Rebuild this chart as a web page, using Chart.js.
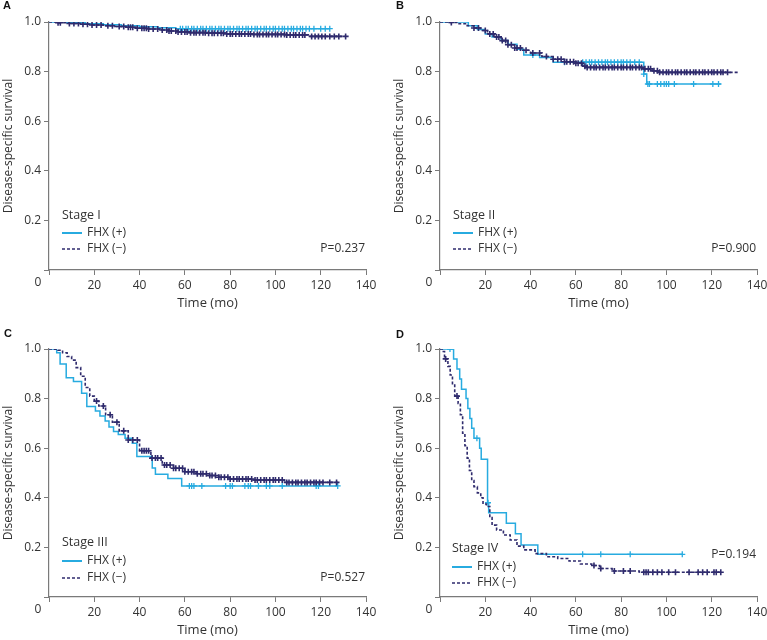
<!DOCTYPE html>
<html>
<head>
<meta charset="utf-8">
<script src="https://cdn.jsdelivr.net/npm/chart.js@4.4.1/dist/chart.umd.min.js"></script>
<style>
  body { margin: 0; background: #fff; width: 767px; height: 640px; position: relative; overflow: hidden; }
  canvas { position: absolute; }
</style>
</head>
<body>
<canvas id="chartA" width="383" height="313" style="left:0;top:0"></canvas>
<canvas id="chartB" width="383" height="313" style="left:391px;top:0"></canvas>
<canvas id="chartC" width="383" height="313" style="left:0;top:327px"></canvas>
<canvas id="chartD" width="383" height="313" style="left:391px;top:327px"></canvas>
<script>
// axis ticks
const xTicks = [0, 20, 40, 60, 80, 100, 120, 140];
const yTicks = [0, 0.2, 0.4, 0.6, 0.8, 1.0];
const seriesLabels = ['FHX (+)', 'FHX (\u2212)'];

// Stage I
const aPosT = [0, 8, 16, 24, 32, 40, 48, 56, 124];
const aPosS = [1, 0.997, 0.993, 0.989, 0.985, 0.981, 0.977, 0.973, 0.973];
const aPosC = [58, 59, 60.5, 61.5, 63, 64, 65.5, 67, 68, 69.5, 71, 72, 73.5, 75, 76, 77.5, 79, 80, 81.5, 83, 84, 85.5, 87, 88, 89.5, 91, 92, 93.5, 95, 96, 97.5, 99, 100, 101.5, 103, 104, 105.5, 107, 108, 109.5, 111, 112, 113.5, 115, 117, 120, 122, 124];
const aNegT = [0, 4, 9, 14, 19, 24, 29, 34, 39, 44, 49, 53, 57, 62, 70, 78, 90, 105, 115, 131];
const aNegS = [1, 0.997, 0.994, 0.991, 0.988, 0.985, 0.982, 0.979, 0.975, 0.972, 0.968, 0.964, 0.96, 0.957, 0.955, 0.952, 0.95, 0.948, 0.942, 0.942];
const aNegC = [4, 5, 9, 11, 13, 15, 17, 19, 21, 23, 26, 28, 31, 33, 35, 36, 37, 39, 41, 42, 43, 44, 46, 48, 50, 52, 53, 54, 56, 57, 58.5, 60, 61, 62.5, 64, 65, 66.5, 68, 69, 70.5, 72, 73, 74.5, 76, 77, 78.5, 80, 81, 82.5, 84, 85, 86.5, 88, 89, 90.5, 92, 93, 94.5, 96, 97, 98.5, 100, 101, 102.5, 104, 105, 106.5, 108, 109, 110.5, 112, 113, 116, 117.5, 119, 120.5, 122, 124, 126, 128, 131];

// Stage II
const bPosT = [0, 12.5, 16.5, 20, 23, 27, 30, 34, 37, 44, 50, 90, 91.3, 124];
const bPosS = [1, 0.985, 0.97, 0.952, 0.94, 0.925, 0.91, 0.89, 0.867, 0.857, 0.838, 0.79, 0.75, 0.75];
const bPosC = [41, 55, 63, 64.5, 66, 67, 68.5, 70, 71.5, 73, 74, 75.5, 77, 78.5, 80, 81, 82.5, 84, 86, 88, 90, 91.8, 92.5, 96, 97.5, 99, 100, 101, 103.5, 112, 120.5, 123];
const bNegT = [0, 4, 8, 12, 15, 18, 21, 24, 27, 30, 33, 36, 40, 45, 50, 55, 60, 63, 65, 90, 94, 97, 132];
const bNegS = [1, 0.998, 0.993, 0.985, 0.976, 0.966, 0.952, 0.94, 0.925, 0.908, 0.895, 0.886, 0.875, 0.861, 0.85, 0.84, 0.834, 0.822, 0.817, 0.811, 0.803, 0.797, 0.797];
const bNegC = [5, 15, 17, 20, 22, 23.5, 25, 26, 27.5, 29, 30, 31.5, 33, 34, 35.5, 38, 41, 44, 47, 50, 52, 53.5, 55, 56, 57.5, 59, 60, 61, 62.5, 64, 65, 66.5, 68, 69, 70.5, 72, 73, 74.5, 76, 77, 78.5, 80, 81, 82.5, 84, 85, 86.5, 88, 89, 90.5, 92, 93, 94.5, 96, 97, 98.5, 100, 101, 102.5, 104, 105, 106.5, 108, 109, 110.5, 112, 113, 114.5, 116, 117, 118.5, 120, 121, 122.5, 124, 125, 127];

// Stage III
const cPosT = [0, 3.4, 4.9, 7.6, 10.8, 14.4, 16.7, 20.5, 22.5, 24.8, 26.5, 28.5, 30.6, 33.6, 36.8, 38.8, 45.6, 47, 52.5, 58.6, 127.5];
const cPosS = [1, 0.985, 0.94, 0.884, 0.869, 0.822, 0.768, 0.75, 0.73, 0.71, 0.685, 0.667, 0.655, 0.64, 0.62, 0.567, 0.52, 0.495, 0.478, 0.448, 0.448];
const cPosC = [62, 63, 64, 67.5, 78, 80, 81, 86.5, 88, 89, 92.5, 96, 97.5, 103, 118, 119, 127.5];
const cNegT = [0, 2, 4, 6, 8, 10, 12, 14, 16, 18, 20, 22, 25, 28, 31, 35, 40, 45, 50, 55, 60, 65, 70, 75, 80, 90, 104, 127.5];
const cNegS = [1, 0.999, 0.995, 0.985, 0.97, 0.955, 0.925, 0.89, 0.845, 0.81, 0.79, 0.77, 0.735, 0.705, 0.67, 0.633, 0.59, 0.56, 0.532, 0.519, 0.505, 0.497, 0.49, 0.483, 0.476, 0.472, 0.462, 0.462];
const cNegC = [21, 24, 27, 30, 33, 35, 37, 39, 41, 42, 43, 44, 45.5, 47, 48, 49.5, 51, 52, 53.5, 55, 56, 57.5, 59, 60, 61.5, 63, 64, 65.5, 67, 68, 69.5, 71, 72, 73.5, 75, 76, 77.5, 79, 80, 81.5, 83, 84, 85.5, 87, 88, 89.5, 91, 92, 93.5, 95, 96, 97.5, 99, 100, 101.5, 103, 105, 106, 107.5, 109, 110, 111.5, 113, 114, 115.5, 117, 118, 119.5, 121, 124, 127];

// Stage IV
const dPosT = [0, 6, 7.5, 8.7, 9.5, 11.5, 12.3, 13.2, 14, 15, 17.5, 18.2, 21, 21.5, 29.3, 33.3, 35.8, 43.2, 107];
const dPosS = [1, 0.96, 0.919, 0.879, 0.838, 0.8, 0.76, 0.72, 0.68, 0.64, 0.6, 0.555, 0.38, 0.34, 0.297, 0.255, 0.21, 0.172, 0.172];
const dPosC = [4.4, 16.3, 21.2, 63, 71, 84, 107];
const dNegT = [0, 1, 2, 3.5, 4.5, 5.5, 6.5, 8, 9, 10, 11, 12, 13, 14, 15, 16.5, 18, 19, 20.5, 22, 23, 25, 28, 31, 34, 37, 42, 47, 52, 57, 62, 67, 70.5, 76, 88, 124];
const dNegS = [1, 0.99, 0.96, 0.93, 0.895, 0.86, 0.81, 0.78, 0.735, 0.66, 0.61, 0.56, 0.51, 0.47, 0.445, 0.42, 0.4, 0.375, 0.365, 0.32, 0.29, 0.27, 0.25, 0.23, 0.205, 0.19, 0.175, 0.162, 0.155, 0.145, 0.133, 0.127, 0.115, 0.105, 0.1, 0.1];
const dNegC = [2.5, 7.5, 68, 71, 77, 81, 84, 90, 91, 92, 94, 96, 98, 101, 104, 110, 114, 116, 118, 121, 122, 124];

const CYAN = '#27abe0';
const NAVY = '#2f2b6d';
const AXIS = '#7a7a7a';
const TEXT = '#333';
const FONT = '"Open Sans", "Noto Sans", sans-serif';

// KM step points
function steps(T, S) {
  return T.map((t, i) => ({ x: t, y: S[i] }));
}
// censor marks sit on the curve at their time
function censors(T, S, C) {
  return C.map(t => {
    let v = S[0];
    for (let i = 0; i < T.length; i++) if (T[i] <= t) v = S[i];
    return { x: t, y: v };
  });
}

const panelText = {
  id: 'panelText',
  afterDraw(chart, args, o) {
    const c = chart.ctx, a = chart.chartArea;
    c.save();
    c.textBaseline = 'middle';
    // panel letter
    c.fillStyle = '#111';
    c.font = 'bold 11px "Liberation Sans", Arial, sans-serif';
    c.textAlign = 'left';
    c.fillText(o.letter, o.letterX, o.letterY);
    // shared origin label
    c.fillStyle = TEXT;
    c.font = '12px ' + FONT;
    c.textAlign = 'center';
    c.fillText('0', a.left - 11, a.bottom + 13);
    // legend
    c.textAlign = 'left';
    c.font = '12.5px ' + FONT;
    c.fillText(o.stage, o.lx, o.stageY);
    c.font = '12px ' + FONT;
    c.lineWidth = 2;
    c.strokeStyle = CYAN;
    c.beginPath(); c.moveTo(o.lx, o.row1); c.lineTo(o.lx + 20, o.row1); c.stroke();
    c.fillText(seriesLabels[0], o.lx + 25, o.row1);
    c.lineWidth = 1.5;
    c.strokeStyle = NAVY;
    c.setLineDash([3, 2]);
    c.beginPath(); c.moveTo(o.lx, o.row2); c.lineTo(o.lx + 20, o.row2); c.stroke();
    c.setLineDash([]);
    c.fillText(seriesLabels[1], o.lx + 25, o.row2);
    // p value
    c.textAlign = 'right';
    c.fillText(o.p, a.right - 1, o.pY);
    c.restore();
  }
};

function makeChart(id, posT, posS, posC, negT, negS, negC, txt) {
  const ctx = document.getElementById(id).getContext('2d');
  return new Chart(ctx, {
    type: 'line',
    data: {
      datasets: [
        { data: censors(negT, negS, negC), showLine: false, pointStyle: 'cross', pointRadius: 3, borderColor: NAVY, borderWidth: 1.6 },
        { data: steps(negT, negS), stepped: 'before', borderColor: NAVY, borderWidth: 1.6, borderDash: [3, 2], pointRadius: 0, fill: false },
        { data: censors(posT, posS, posC), showLine: false, pointStyle: 'cross', pointRadius: 3, borderColor: CYAN, borderWidth: 1.3 },
        { data: steps(posT, posS), stepped: 'before', borderColor: CYAN, borderWidth: 1.5, pointRadius: 0, fill: false }
      ]
    },
    options: {
      responsive: false,
      animation: false,
      devicePixelRatio: 1,
      layout: { padding: { top: 22, right: 17, left: 0, bottom: 0 } },
      plugins: {
        legend: { display: false },
        tooltip: { enabled: false },
        panelText: txt
      },
      scales: {
        x: {
          type: 'linear',
          min: xTicks[0], max: xTicks[xTicks.length - 1],
          afterFit: s => { s.height = 43; },
          afterBuildTicks: s => { s.ticks = xTicks.map(v => ({ value: v })); },
          ticks: { color: TEXT, font: { family: FONT, size: 12 }, padding: 3, maxRotation: 0,
                   callback: v => v === 0 ? '' : v },
          grid: { drawOnChartArea: false, color: AXIS, tickLength: 5 },
          border: { color: AXIS, width: 1.2 },
          title: { display: true, text: 'Time (mo)', color: TEXT, font: { family: FONT, size: 13 }, padding: { top: 0, bottom: 2 } }
        },
        y: {
          min: 0, max: 1,
          afterFit: s => { s.width = 49; },
          afterBuildTicks: s => { s.ticks = yTicks.map(v => ({ value: v })); },
          ticks: { color: TEXT, font: { family: FONT, size: 12 }, padding: 3,
                   callback: v => v === 0 ? '' : Number(v).toFixed(1) },
          grid: { drawOnChartArea: false, color: AXIS, tickLength: 5 },
          border: { color: AXIS, width: 1.2 },
          title: { display: true, text: 'Disease-specific survival', color: TEXT, font: { family: FONT, size: 12 }, padding: { top: 1, bottom: 0 } }
        }
      }
    },
    plugins: [panelText]
  });
}

makeChart('chartA', aPosT, aPosS, aPosC, aNegT, aNegS, aNegC,
  { letter: 'A', letterX: 3, letterY: 6, stage: 'Stage I', lx: 62, stageY: 215, row1: 233, row2: 249, p: 'P=0.237', pY: 249 });
makeChart('chartB', bPosT, bPosS, bPosC, bNegT, bNegS, bNegC,
  { letter: 'B', letterX: 5, letterY: 6, stage: 'Stage II', lx: 62, stageY: 215, row1: 233, row2: 249, p: 'P=0.900', pY: 249 });
makeChart('chartC', cPosT, cPosS, cPosC, cNegT, cNegS, cNegC,
  { letter: 'C', letterX: 4, letterY: 7, stage: 'Stage III', lx: 62, stageY: 215, row1: 234, row2: 251, p: 'P=0.527', pY: 251 });
makeChart('chartD', dPosT, dPosS, dPosC, dNegT, dNegS, dNegC,
  { letter: 'D', letterX: 5, letterY: 8, stage: 'Stage IV', lx: 61, stageY: 221, row1: 240, row2: 256, p: 'P=0.194', pY: 228 });
</script>
</body>
</html>
